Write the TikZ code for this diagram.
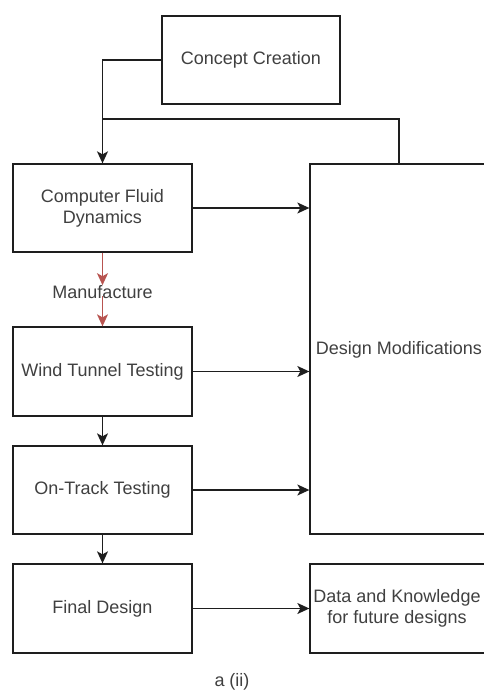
\documentclass[tikz,border=0pt]{standalone}
\usepackage{fontspec}
\setmainfont{Liberation Sans}
\usetikzlibrary{arrows.meta}
\definecolor{linec}{RGB}{30,30,30}
\definecolor{textc}{RGB}{64,64,64}
\definecolor{redc}{RGB}{184,84,80}
\tikzset{
  box/.style={draw=linec, line width=1.3pt, fill=white, text=textc, align=center,
    font=\fontsize{18}{21}\selectfont, inner sep=0pt},
  conn/.style={draw=linec, line width=1.3pt, -{Stealth[length=12pt,width=11pt,inset=3pt]}},
  plain/.style={draw=linec, line width=1.3pt},
  redconn/.style={draw=redc, line width=1.3pt, -{Stealth[length=12pt,width=11pt,inset=3pt]}},
  lbl/.style={text=textc, font=\fontsize{18}{21}\selectfont, inner sep=0pt}
}
\begin{document}
\begin{tikzpicture}[x=1pt,y=-1pt]
\useasboundingbox (0,0) rectangle (484,693);
\node[box, minimum width=178pt, minimum height=88pt] (cc) at (251,60) {Concept Creation};
\node[box, minimum width=179pt, minimum height=88pt] (cfd) at (102.5,208) {Computer Fluid\\Dynamics};
\node[box, minimum width=179pt, minimum height=89pt] (wt) at (102.5,371.5) {Wind Tunnel Testing};
\node[box, minimum width=179pt, minimum height=88pt] (ot) at (102.5,490) {On-Track Testing};
\node[box, minimum width=179pt, minimum height=89pt] (fd) at (102.5,608.5) {Final Design};
\node[box, minimum width=182pt, minimum height=370pt] (dm) at (401,349) {};
\node[lbl] (dmt) at (399,350) {Design Modifications};
\node[box, minimum width=182pt, minimum height=89pt] (dk) at (401,608.5) {};
\node[lbl, align=center] (dkt) at (397,608) {Data and Knowledge\\for future designs};
\node[lbl] (mf) at (102.5,292) {Manufacture};
\node[lbl] (cap) at (232,682) {a (ii)};
\coordinate (fb) at (102.5,119);
\coordinate (mfs) at (102.5,296);
\coordinate (dmtop) at (399,164);
% connectors
\draw[conn] (cc.west) -| (cfd.north);
\draw[plain] (dmtop) |- (fb);
\draw[redconn] (cfd.south) -- (mf.north);
\draw[redconn] (mfs) -- (wt.north);
\draw[conn] (wt.south) -- (ot.north);
\draw[conn] (ot.south) -- (fd.north);
\draw[conn] (cfd.east) -- (cfd.east -| dm.west);
\draw[conn] (wt.east) -- (wt.east -| dm.west);
\draw[conn] (ot.east) -- (ot.east -| dm.west);
\draw[conn] (fd.east) -- (fd.east -| dk.west);
\end{tikzpicture}
\end{document}
